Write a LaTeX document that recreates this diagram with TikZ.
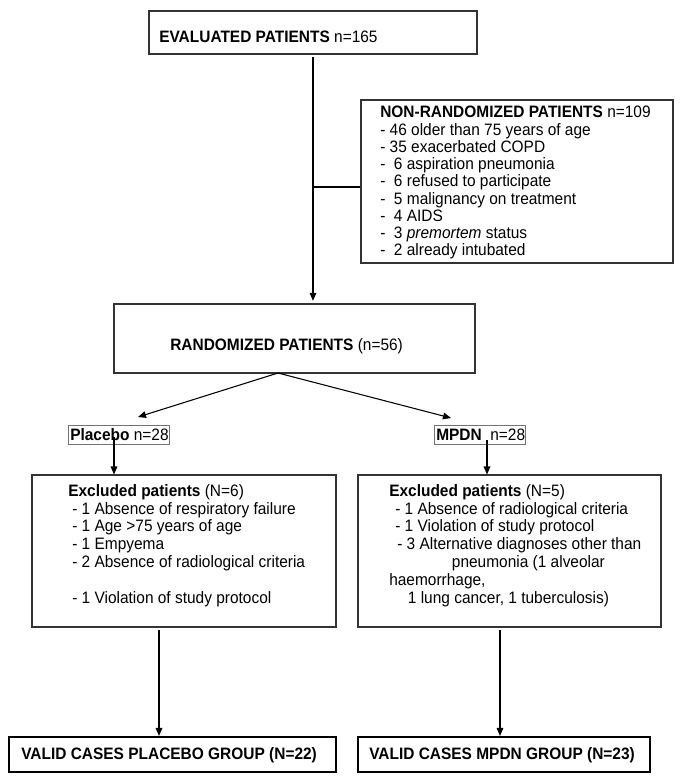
\documentclass[tikz,border=0pt]{standalone}
\usepackage{fontspec}
\setmainfont[FakeStretch=0.935]{Liberation Sans}
\usetikzlibrary{arrows.meta,fit}
\begin{document}
\begin{tikzpicture}[x=0.75pt,y=-0.75pt,
  box/.style={draw=black!80, line width=0.8pt, inner sep=0pt},
  smallbox/.style={draw=black!55, line width=0.75pt, inner sep=0pt},
  thickbox/.style={draw=black, line width=1.6pt, inner sep=0pt},
  txt/.style={inner sep=0pt, font=\fontsize{12.4pt}{13pt}\selectfont},
  ltxt/.style={inner sep=0pt, align=left, anchor=north west, font=\fontsize{12.4pt}{#1}\selectfont},
  conn/.style={line width=0.8pt, -{Triangle[length=6pt,width=5pt]}},
  plain/.style={line width=0.8pt}]
\useasboundingbox (0,0) rectangle (685,783);

% boxes
\node[box, fit={(149,11) (477,54)}] (evalbox) {};
\node[box, fit={(361,100) (673,263)}] (nonrand) {};
\node[box, fit={(114,304) (475,373)}] (rand) {};
\node[smallbox, fit={(68,425) (169,444)}] (plac) {};
\node[smallbox, fit={(434,425) (525,444)}] (mpdn) {};
\node[box, fit={(32,475) (336,627)}] (exclL) {};
\node[box, fit={(358,475) (661,627)}] (exclR) {};
\node[thickbox, fit={(9,737) (336,772)}] (validL) {};
\node[thickbox, fit={(358,737) (650,772)}] (validR) {};

% texts
\node[txt, anchor=base west] (evaltxt) at (159,42.9) {\textbf{EVALUATED PATIENTS} n=165};
\node[ltxt=12.94pt] (nonrandtxt) at (380,106.1) {\textbf{NON-RANDOMIZED PATIENTS} n=109\\
- 46 older than 75 years of age\\
- 35 exacerbated COPD\\
-\ \ 6 aspiration pneumonia\\
-\ \ 6 refused to participate\\
-\ \ 5 malignancy on treatment\\
-\ \ 4 AIDS\\
-\ \ 3 \textit{premortem} status\\
-\ \ 2 already intubated};
\node[txt, anchor=base west] (randtxt) at (170,350.9) {\textbf{RANDOMIZED PATIENTS} (n=56)};
\node[txt, anchor=base west] (plactxt) at (70,440.9) {\textbf{Placebo} n=28};
\node[txt, anchor=base west] (mpdntxt) at (436,440.9) {\textbf{MPDN}\ \ n=28};
\node[ltxt=13.35pt] (exclLtxt) at (68,484.1) {\textbf{Excluded patients} (N=6)\\
\hspace*{3pt}- 1 Absence of respiratory failure\\
\hspace*{3pt}- 1 Age >75 years of age\\
\hspace*{3pt}- 1 Empyema\\
\hspace*{3pt}- 2 Absence of radiological criteria\\[13.35pt]
\hspace*{3pt}- 1 Violation of study protocol};
\node[ltxt=13.35pt] (exclRtxt) at (389,484.1) {\textbf{Excluded patients} (N=5)\\
\hspace*{4.5pt}- 1 Absence of radiological criteria\\
\hspace*{4.5pt}- 1 Violation of study protocol\\
\hspace*{6pt}- 3 Alternative diagnoses other than\\
\hspace*{47pt}pneumonia (1 alveolar\\
haemorrhage,\\
\hspace*{14pt}1 lung cancer, 1 tuberculosis)};
\node[txt, anchor=base west, font=\fontsize{12.4pt}{13pt}\selectfont\bfseries] (validLtxt) at (21,759.9) {VALID CASES PLACEBO GROUP (N=22)};
\node[txt, anchor=base west, font=\fontsize{12.4pt}{13pt}\selectfont\bfseries] (validRtxt) at (369,759.9) {VALID CASES MPDN GROUP (N=23)};

% connectors
\coordinate (evdown) at (313,57);
\draw[conn, shorten >=2pt] (evdown) -- (evdown |- rand.north);
\coordinate (branch) at (313,187);
\draw[plain] (branch) -- (branch -| nonrand.west);
\coordinate (randsplit) at (278,373);
\coordinate (placin) at (138,417);
\coordinate (mpdnin) at (451,418);
\draw[conn] (randsplit) -- (placin);
\draw[conn] (randsplit) -- (mpdnin);
\coordinate (placdown) at (114,437);
\draw[conn] (placdown) -- (placdown |- exclL.north);
\coordinate (mpdndown) at (487,440);
\draw[conn] (mpdndown) -- (mpdndown |- exclR.north);
\coordinate (exLdown) at (159,630);
\draw[conn] (exLdown) -- (exLdown |- validL.north);
\coordinate (exRdown) at (500,630);
\draw[conn] (exRdown) -- (exRdown |- validR.north);
\end{tikzpicture}
\end{document}
